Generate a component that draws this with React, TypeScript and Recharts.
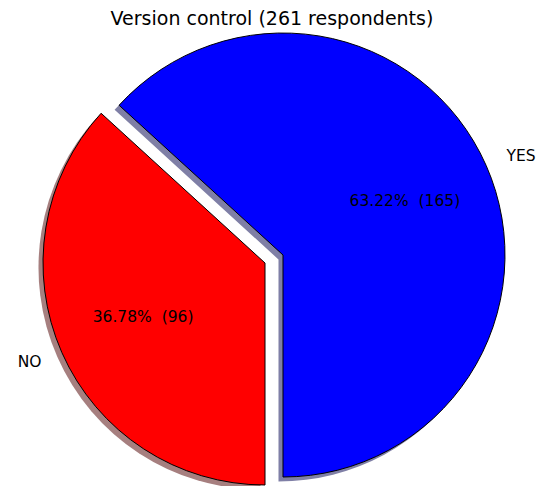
import { PieChart, Pie, Cell } from 'recharts';

const labels = ['YES', 'NO'];
const counts = [165, 96];
const colors = ['#0000ff', '#ff0000'];
const shadowColors = ['#7f7fa6', '#a67f7f'];

const data = labels.map((name, i) => ({ name, value: counts[i] }));
const total = counts.reduce((a, b) => a + b, 0);

// each wedge is pushed out from the pie centre along its mid angle
const centers = [
    { x: 283, y: 255 },
    { x: 265, y: 263 },
];
const RADIUS = 222;
const SHADOW = 4.5;
const RAD = Math.PI / 180;
const FONT = 'DejaVu Sans, sans-serif';

function makeLabel(visible: number) {
    return (props: any) => {
        const { cx, cy, midAngle, outerRadius, index, value, name } = props;
        if (index !== visible) return null;
        const c = Math.cos(-midAngle * RAD);
        const s = Math.sin(-midAngle * RAD);
        const nx = cx + outerRadius * 1.1 * c;
        const ny = cy + outerRadius * 1.1 * s;
        const px = cx + outerRadius * 0.6 * c;
        const py = cy + outerRadius * 0.6 * s;
        const pct = ((value / total) * 100).toFixed(2);
        return (
            <g>
                <text x={nx} y={ny} textAnchor={c >= 0 ? 'start' : 'end'} dominantBaseline="central"
                    fontFamily={FONT} fontSize={15.5} fill="#000">{name}</text>
                <text x={px} y={py} textAnchor="middle" dominantBaseline="central"
                    fontFamily={FONT} fontSize={15.5} fill="#000" style={{ whiteSpace: 'pre' }}>
                    {`${pct}%  (${value})`}
                </text>
            </g>
        );
    };
}

function App() {
    return (
        <div style={{ position: 'absolute', left: 0, top: 0, width: 542, height: 486, background: '#fff' }}>
            <PieChart width={542} height={486} margin={{ top: 0, right: 0, bottom: 0, left: 0 }}>
                <text x={272} y={18} textAnchor="middle" dominantBaseline="central"
                    fontFamily={FONT} fontSize={19} fill="#000">Version control (261 respondents)</text>
                {/* shadows first, underneath every wedge */}
                {centers.map((c, k) => (
                    <Pie key={`shadow-${k}`} data={data} dataKey="value" cx={c.x - SHADOW} cy={c.y + SHADOW}
                        outerRadius={RADIUS} startAngle={-90} endAngle={270} stroke="none"
                        isAnimationActive={false} labelLine={false}>
                        {data.map((d, i) => (
                            <Cell key={d.name} fill={i === k ? shadowColors[i] : 'none'} stroke="none" />
                        ))}
                    </Pie>
                ))}
                {centers.map((c, k) => (
                    <Pie key={`wedge-${k}`} data={data} dataKey="value" cx={c.x} cy={c.y}
                        outerRadius={RADIUS} startAngle={-90} endAngle={270}
                        isAnimationActive={false} labelLine={false} label={makeLabel(k)}>
                        {data.map((d, i) => (
                            <Cell key={d.name} fill={i === k ? colors[i] : 'none'}
                                stroke={i === k ? '#000' : 'none'} strokeWidth={1} />
                        ))}
                    </Pie>
                ))}
            </PieChart>
        </div>
    );
}

export default App;
